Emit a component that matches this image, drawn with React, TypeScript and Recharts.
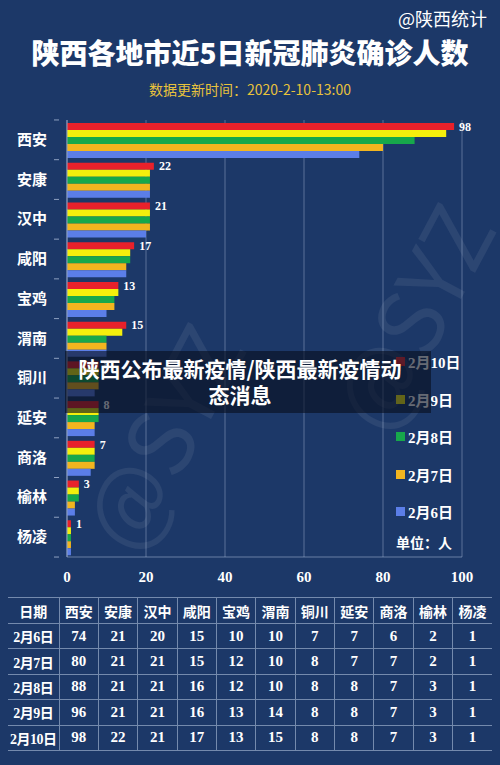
import React from 'react';
import { BarChart, Bar, XAxis, YAxis, CartesianGrid, LabelList } from 'recharts';

const cities = ['西安', '安康', '汉中', '咸阳', '宝鸡', '渭南', '铜川', '延安', '商洛', '榆林', '杨凌'];
const dates = ['2月6日', '2月7日', '2月8日', '2月9日', '2月10日'];
const feb6 = [74, 21, 20, 15, 10, 10, 7, 7, 6, 2, 1];
const feb7 = [80, 21, 21, 15, 12, 10, 8, 7, 7, 2, 1];
const feb8 = [88, 21, 21, 16, 12, 10, 8, 8, 7, 3, 1];
const feb9 = [96, 21, 21, 16, 13, 14, 8, 8, 7, 3, 1];
const feb10 = [98, 22, 21, 17, 13, 15, 8, 8, 7, 3, 1];
const seriesValues = [feb6, feb7, feb8, feb9, feb10];
const seriesColors = ['#5b7ee8', '#f2b51f', '#17a84b', '#f4ef0c', '#e8212b'];
const xTicks = [0, 20, 40, 60, 80, 100];

const BG = '#1c3868';
const SANS = '"Noto Sans CJK SC", "Noto Sans", sans-serif';
const SERIF = '"Liberation Serif", "Noto Sans CJK SC", serif';

const chartData = cities.map((city, i) => {
  const row: Record<string, string | number> = { city };
  dates.forEach((d, j) => {
    row[d] = seriesValues[j][i];
  });
  return row;
});

// bars top-to-bottom: newest first
const barOrder = [4, 3, 2, 1, 0];
const legendOrder = [4, 3, 2, 1, 0];

const CityTick = (props: any) => {
  const { x, y, payload, index } = props;
  const half = 19.9;
  return (
    <g>
      <text x={x - 12} y={y} dy={5} textAnchor="end" fill="#fff" fontSize={15} fontWeight={700} fontFamily={SANS}>
        {payload.value}
      </text>
      <line x1={x - 5} x2={x} y1={y - half} y2={y - half} stroke="#8ea0c0" strokeWidth={1} />
      {index === cities.length - 1 && (
        <line x1={x - 5} x2={x} y1={y + half} y2={y + half} stroke="#8ea0c0" strokeWidth={1} />
      )}
    </g>
  );
};

export default function App() {
  const colW = [51, ...cities.map(() => 39.36)];
  const lineC = 'rgba(190,205,230,0.55)';
  return (
    <div style={{ position: 'absolute', left: 0, top: 0, width: 500, height: 765, background: BG, overflow: 'hidden' }}>
      <div style={{ position: 'absolute', right: 13, top: 5, color: '#fff', fontFamily: SANS, fontSize: 18 }}>@陕西统计</div>
      <div style={{ position: 'absolute', left: 0, width: 500, top: 32, textAlign: 'center', color: '#fff', fontFamily: SANS, fontSize: 28, fontWeight: 900, letterSpacing: 0 }}>
        陕西各地市近5日新冠肺炎确诊人数
      </div>
      <div style={{ position: 'absolute', left: 0, width: 500, top: 79, textAlign: 'center', color: '#e8c23c', fontFamily: SANS, fontSize: 14 }}>
        数据更新时间：2020-2-10-13:00
      </div>

      <div style={{ position: 'absolute', left: 0, top: 110 }}>
        <BarChart
          width={500}
          height={480}
          data={chartData}
          layout="vertical"
          margin={{ top: 10, right: 38, left: 0, bottom: 3 }}
          barCategoryGap={3}
          barGap={0}
        >
          <CartesianGrid horizontal={false} stroke="rgba(170,185,215,0.45)" strokeWidth={1} />
          <XAxis
            type="number"
            domain={[0, 100]}
            ticks={xTicks}
            height={30}
            tickLine={false}
            tickMargin={8}
            axisLine={{ stroke: 'rgba(170,185,215,0.55)' }}
            tick={{ fill: '#fff', fontSize: 15, fontWeight: 700, fontFamily: SERIF }}
          />
          <YAxis
            type="category"
            dataKey="city"
            width={67}
            tickLine={false}
            axisLine={{ stroke: '#8ea0c0' }}
            tick={<CityTick />}
            interval={0}
          />
          {barOrder.map((j) => (
            <Bar key={dates[j]} dataKey={dates[j]} fill={seriesColors[j]} isAnimationActive={false}>
              {j === 4 && (
                <LabelList
                  dataKey={dates[j]}
                  position="right"
                  offset={5}
                  fill="#fff"
                  fontSize={12}
                  fontWeight={700}
                  fontFamily={SERIF}
                />
              )}
            </Bar>
          ))}
        </BarChart>
      </div>

      {/* legend */}
      <div style={{ position: 'absolute', left: 396, top: 343, fontFamily: SERIF, color: '#fff', fontWeight: 700, fontSize: 15 }}>
        {legendOrder.map((j) => (
          <div key={dates[j]} style={{ height: 37.5, display: 'flex', alignItems: 'center', whiteSpace: 'nowrap' }}>
            <span style={{ width: 9, height: 9, background: seriesColors[j], display: 'inline-block', marginRight: 3 }} />
            <span>{dates[j]}</span>
          </div>
        ))}
        <div style={{ height: 22, display: 'flex', alignItems: 'center', fontFamily: SANS, fontSize: 14 }}>单位：人</div>
      </div>

      {/* watermarks */}
      <div style={{ position: 'absolute', left: 40, top: 370, transform: 'rotate(-62deg)', color: 'rgba(255,255,255,0.07)', fontSize: 90, fontFamily: SANS, pointerEvents: 'none' }}>@SYZ</div>
      <div style={{ position: 'absolute', left: 290, top: 250, transform: 'rotate(-62deg)', color: 'rgba(255,255,255,0.07)', fontSize: 90, fontFamily: SANS, pointerEvents: 'none' }}>@SYZ</div>

      {/* overlay caption */}
      <div style={{ position: 'absolute', left: 65, top: 351, width: 366, height: 62, background: 'rgba(8,14,30,0.62)' }} />
      <div style={{ position: 'absolute', left: 65, top: 355, width: 350, textAlign: 'center', color: '#fff', fontFamily: SANS, fontWeight: 700, fontSize: 21, lineHeight: '26px', whiteSpace: 'nowrap' }}>
        陕西公布最新疫情/陕西最新疫情动<br />态消息
      </div>

      {/* data table */}
      <table
        style={{
          position: 'absolute',
          left: 8,
          top: 597,
          width: 484,
          borderCollapse: 'collapse',
          tableLayout: 'fixed',
          color: '#fff',
          fontWeight: 700,
          fontFamily: SERIF,
          fontSize: 15,
          textAlign: 'center',
        }}
      >
        <colgroup>
          {colW.map((w, i) => (
            <col key={i} style={{ width: w }} />
          ))}
        </colgroup>
        <tbody>
          <tr style={{ height: 26 }}>
            {['日期', ...cities].map((h, i) => (
              <td
                key={h}
                style={{
                  padding: 0,
                  fontFamily: SANS,
                  fontSize: 14,
                  borderTop: `1px solid ${lineC}`,
                  borderBottom: `1px solid ${lineC}`,
                  borderLeft: i > 0 ? `1px solid ${lineC}` : 'none',
                }}
              >
                {h}
              </td>
            ))}
          </tr>
          {dates.map((d, j) => (
            <tr key={d} style={{ height: 25.4 }}>
              <td style={{ padding: 0, borderBottom: `1px solid ${lineC}`, whiteSpace: 'nowrap', fontSize: 14, letterSpacing: -0.5 }}>{d}</td>
              {seriesValues[j].map((v, i) => (
                <td key={i} style={{ padding: 0, borderBottom: `1px solid ${lineC}`, borderLeft: `1px solid ${lineC}` }}>
                  {v}
                </td>
              ))}
            </tr>
          ))}
        </tbody>
      </table>
    </div>
  );
}
